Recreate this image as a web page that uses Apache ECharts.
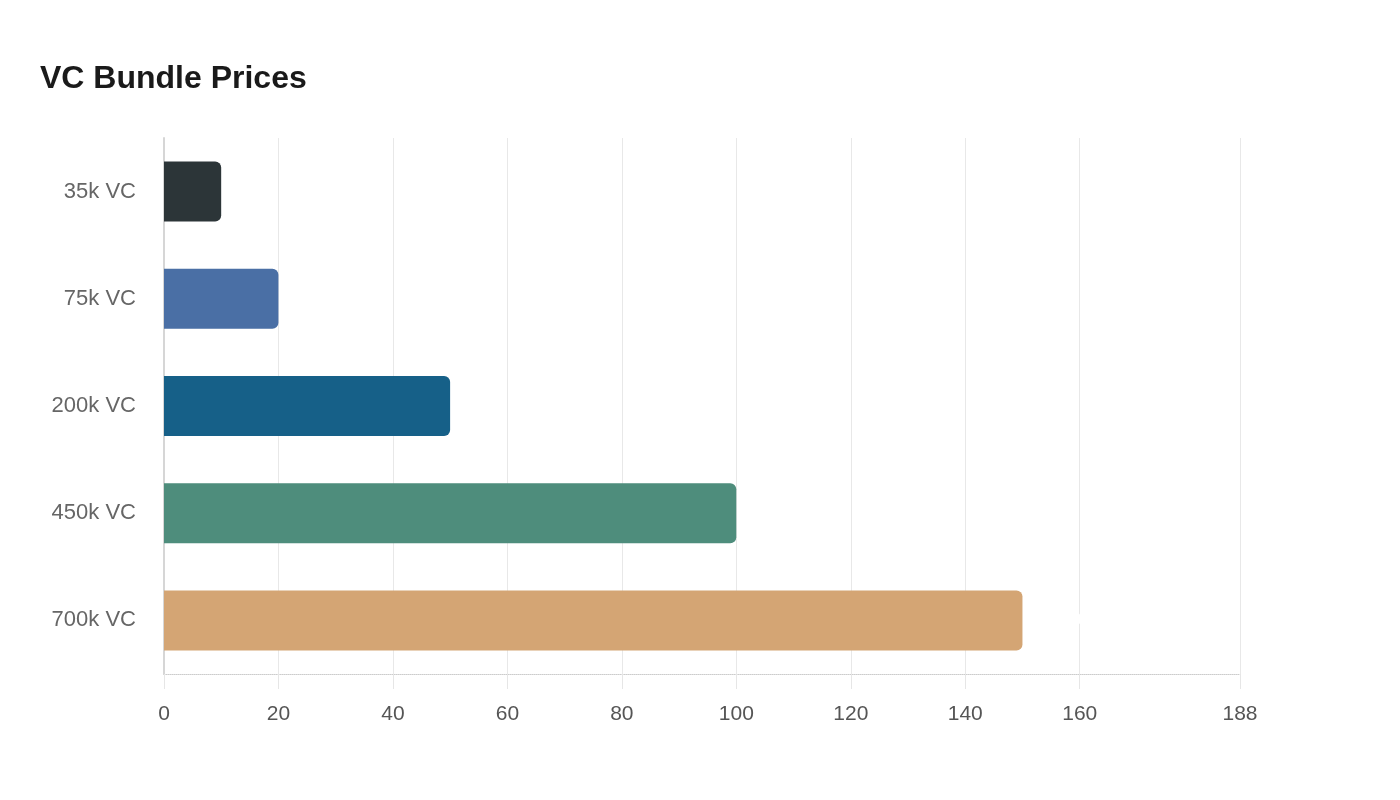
<!DOCTYPE html>
<html>
<head>
<meta charset="utf-8">
<script src="https://cdn.jsdelivr.net/npm/echarts@6/dist/echarts.min.js"></script>
<style>html,body{margin:0;padding:0;background:#fff}#c{width:1400px;height:800px}</style>
</head>
<body>
<div id="c"></div>
<script>
const categories = ['35k VC', '75k VC', '200k VC', '450k VC', '700k VC'];
const prices = [9.99, 19.99, 49.99, 99.99, 149.99];
const barColors = ['#2c3538', '#4a6fa5', '#166088', '#4e8d7c', '#d4a574'];
const axisMax = 188;
const xTickValues = [0, 20, 40, 60, 80, 100, 120, 140, 160, 188];

const FONT = 'Liberation Sans, Arial, sans-serif';
const chart = echarts.init(document.getElementById('c'));
chart.setOption({
  animation: false,
  title: {
    text: 'VC Bundle Prices',
    left: 35, top: 58,
    textStyle: { fontFamily: FONT, fontSize: 32, fontWeight: 'bold', color: '#1a1a1a' }
  },
  grid: { left: 164, right: 160, top: 138, bottom: 126 },
  xAxis: {
    type: 'value', min: 0, max: axisMax,
    axisLine: { show: true, lineStyle: { color: '#cccccc', type: 'dotted' } },
    axisTick: { show: true, length: 15, customValues: xTickValues, lineStyle: { color: '#e6e6e6' } },
    axisLabel: { fontFamily: FONT, fontSize: 21, color: '#555', margin: 30, customValues: xTickValues },
    splitLine: { show: true, lineStyle: { color: '#e8e8e8', width: 1 } }
  },
  yAxis: {
    type: 'category', data: categories, inverse: true,
    axisLine: { show: true, lineStyle: { color: '#d6d6d6', width: 2 } },
    axisTick: { show: false },
    axisLabel: { fontFamily: FONT, fontSize: 22, color: '#666', margin: 28 }
  },
  series: [{
    type: 'bar',
    data: prices.map((v, i) => ({ value: v, itemStyle: { color: barColors[i] } })),
    barWidth: '56%',
    itemStyle: { borderRadius: [0, 6, 6, 0] },
    label: {
      show: true, position: 'right', distance: 1, color: '#fff', fontWeight: 'bold', fontSize: 16,
      fontFamily: FONT,
      formatter: p => '$' + p.value.toFixed(2)
    }
  }]
});
</script>
</body>
</html>
